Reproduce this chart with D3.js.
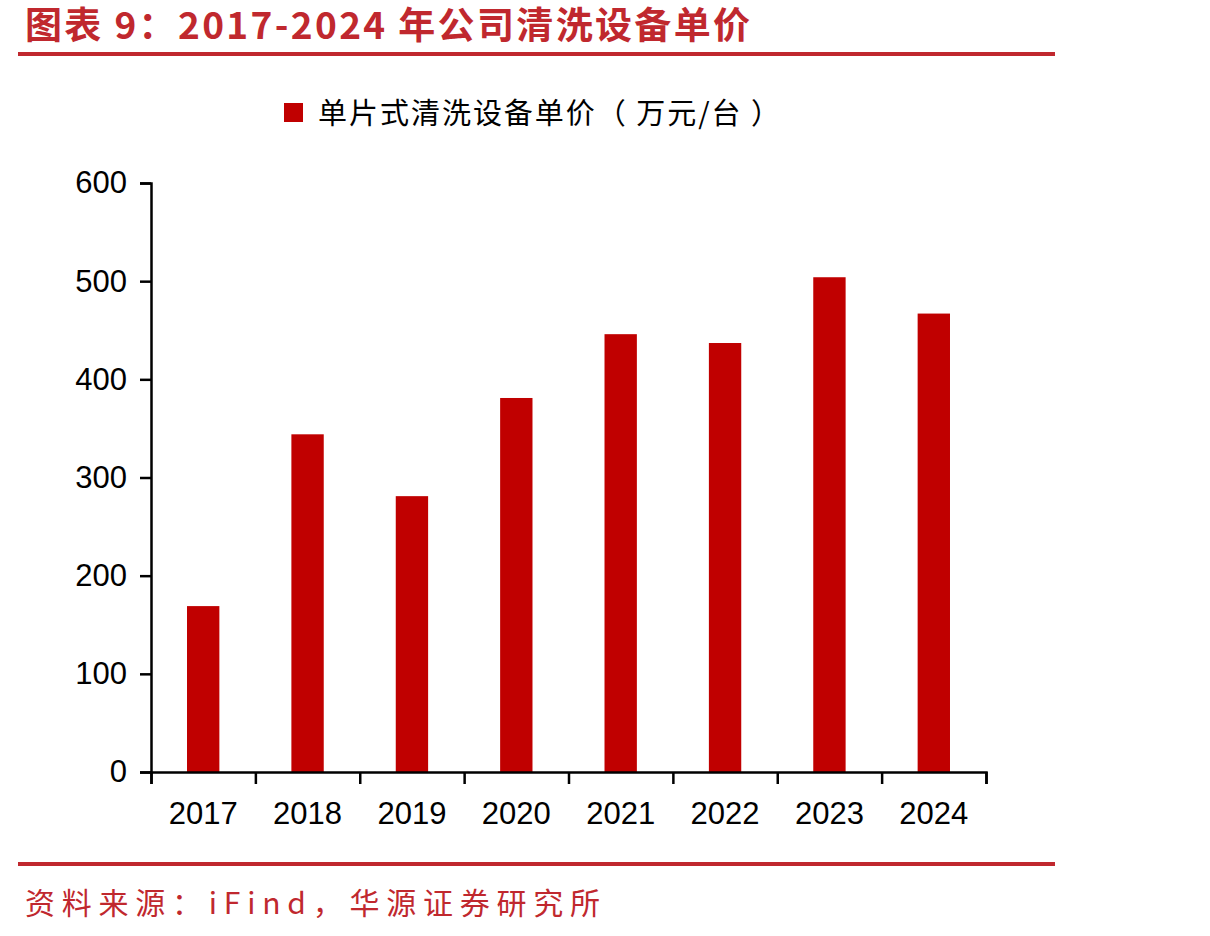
<!DOCTYPE html>
<html>
<head>
<meta charset="utf-8">
<script src="https://cdn.jsdelivr.net/npm/d3@7"></script>
<style>
body { margin: 0; background: #fff; }
</style>
</head>
<body>
<div id="chart"></div>
<script>
var years = ["2017", "2018", "2019", "2020", "2021", "2022", "2023", "2024"];
var prices = [169, 344, 281, 381, 446, 437, 504, 467];
var yTicks = [0, 100, 200, 300, 400, 500, 600];
var seriesName = "单片式清洗设备单价（ 万元/台 ）";

var width = 1210, height = 936;
var margin = { top: 183, right: 224, bottom: 164, left: 151 };
var red = "#c0282e";

var svg = d3.select("#chart")
            .append("svg")
            .attr("width", width)
            .attr("height", height);

// title + rules
svg.append("text")
   .attr("x", 25).attr("y", 39)
   .attr("textLength", 725)
   .style("font-family", "'Noto Sans CJK SC'")
   .style("font-weight", "bold")
   .style("font-size", "37px")
   .style("fill", red)
   .text("图表 9：2017-2024 年公司清洗设备单价");

svg.append("rect").attr("x", 18).attr("y", 52).attr("width", 1037).attr("height", 4).style("fill", red);
svg.append("rect").attr("x", 18).attr("y", 862).attr("width", 1037).attr("height", 4).style("fill", red);

svg.append("text")
   .attr("x", 25).attr("y", 914)
   .attr("textLength", 575)
   .style("font-family", "'Noto Sans CJK SC'")
   .style("font-size", "30px")
   .style("fill", red)
   .text("资料来源：iFind，华源证券研究所");

// legend
svg.append("rect").attr("x", 284).attr("y", 103).attr("width", 19).attr("height", 19).style("fill", "#c00000");
svg.append("text")
   .attr("x", 318).attr("y", 124)
   .attr("textLength", 462)
   .style("font-family", "'Noto Sans CJK SC'")
   .style("font-size", "29px")
   .style("fill", "#000")
   .text(seriesName);

var x = d3.scaleBand()
          .domain(years)
          .range([margin.left, width - margin.right])
          .paddingInner(0.69)
          .paddingOuter(0.345);

var xAxisScale = d3.scaleLinear().domain([0, years.length]).range([margin.left, width - margin.right]);

var y = d3.scaleLinear()
          .domain([0, 600])
          .range([height - margin.bottom, margin.top]);

// bars
svg.append("g")
   .selectAll("rect")
   .data(prices)
   .enter()
   .append("rect")
   .attr("x", function(d, i) { return x(years[i]); })
   .attr("y", function(d) { return y(d); })
   .attr("width", x.bandwidth())
   .attr("height", function(d) { return y(0) - y(d); })
   .style("fill", "#c00000");

// y axis
var yAxis = svg.append("g")
   .attr("transform", "translate(" + margin.left + ",0)")
   .call(d3.axisLeft(y).tickValues(yTicks).tickSize(11).tickPadding(13));
yAxis.select(".domain").attr("stroke-width", 2.5);
yAxis.selectAll(".tick line").attr("stroke-width", 2.5);
yAxis.selectAll("text")
     .style("font-family", "'Liberation Sans', Arial")
     .style("font-size", "31px")
     .style("fill", "#000");

// x axis: ticks at category boundaries
var xAxis = svg.append("g")
   .attr("transform", "translate(0," + y(0) + ")")
   .call(d3.axisBottom(xAxisScale).tickValues(d3.range(years.length + 1)).tickSize(12).tickFormat(""));
xAxis.select(".domain").attr("stroke-width", 2.5);
xAxis.selectAll(".tick line").attr("stroke-width", 2.5);

svg.append("g")
   .selectAll("text")
   .data(years)
   .enter()
   .append("text")
   .attr("x", function(d) { return x(d) + x.bandwidth() / 2; })
   .attr("y", y(0) + 52)
   .attr("text-anchor", "middle")
   .style("font-family", "'Liberation Sans', Arial")
   .style("font-size", "31px")
   .style("fill", "#000")
   .text(function(d) { return d; });
</script>
</body>
</html>
